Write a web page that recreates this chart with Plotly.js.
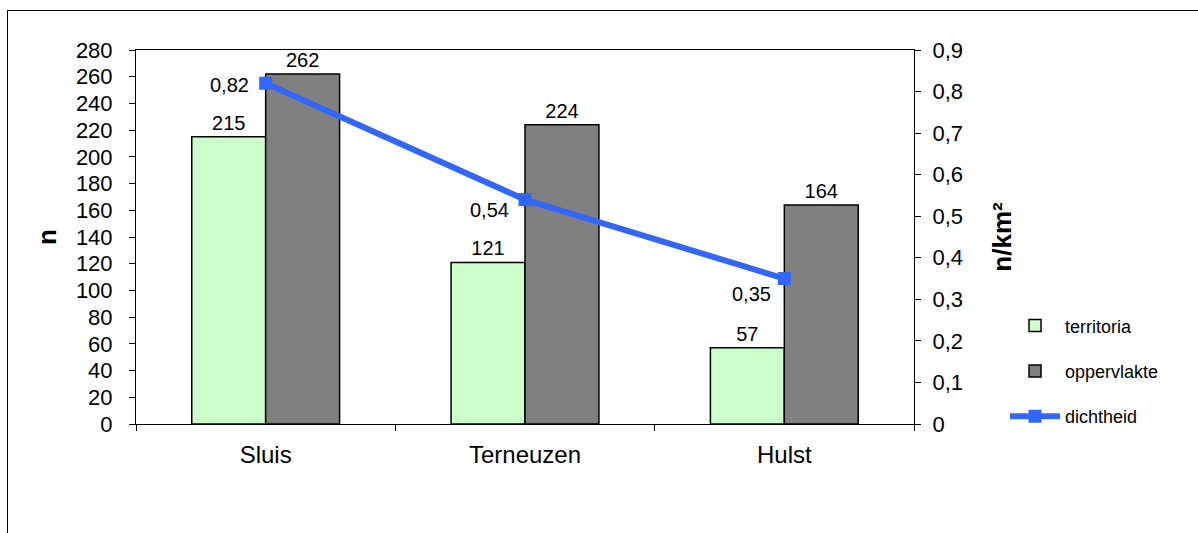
<!DOCTYPE html>
<html><head><meta charset="utf-8">
<script src="https://cdn.plot.ly/plotly-3.0.1.min.js"></script>
<style>
html,body{margin:0;padding:0;background:#fff;overflow:hidden;}
#frame{position:absolute;left:7px;top:10px;width:1300px;height:600px;border:1.5px solid #000;box-sizing:border-box;}
#chart{position:absolute;left:0;top:0;width:1198px;height:533px;}
</style></head>
<body>
<div id="frame"></div>
<div id="chart"></div>
<script>
var categories = ["Sluis", "Terneuzen", "Hulst"];
var territoria = [215, 121, 57];
var oppervlakte = [262, 224, 164];
var dichtheid = [0.82, 0.54, 0.35];
var dichtheidLabels = ["0,82", "0,54", "0,35"];

var F = "Liberation Sans, Arial, sans-serif";
// label placement (style only): pixel shifts for the density labels
var labelShiftX = [-16, -15, -12];
var labelShiftY = [-2, -10, -15];

var traces = [
  {type:"bar", name:"territoria", x:categories, y:territoria, text:territoria.map(String),
   textposition:"outside", cliponaxis:false, textfont:{family:F,size:20,color:"#000"},
   marker:{color:"#CCFFCC", line:{color:"#000", width:1.5}}, legendgroup:"a", hoverinfo:"skip"},
  {type:"bar", name:"oppervlakte", x:categories, y:oppervlakte, text:oppervlakte.map(String),
   textposition:"outside", cliponaxis:false, textfont:{family:F,size:20,color:"#000"},
   marker:{color:"#808080", line:{color:"#000", width:1.5}}, legendgroup:"b", hoverinfo:"skip"},
  {type:"scatter", mode:"lines+markers", name:"dichtheid", x:categories, y:dichtheid, yaxis:"y2",
   cliponaxis:false,
   line:{color:"#3366FF", width:6}, marker:{symbol:"square", size:13, color:"#3366FF"},
   legendgroup:"c", hoverinfo:"skip"}
];

var annotations = categories.map(function(c, i){
  return {x:c, y:dichtheid[i], xref:"x", yref:"y2", text:dichtheidLabels[i], showarrow:false,
          xanchor:"right", yanchor:"middle", xshift:labelShiftX[i], yshift:labelShiftY[i],
          font:{family:F, size:20, color:"#000"}, borderpad:0};
});

var layout = {
  width:1198, height:533,
  margin:{l:136, r:284, t:50, b:109, pad:0},
  paper_bgcolor:"rgba(0,0,0,0)", plot_bgcolor:"rgba(0,0,0,0)",
  font:{family:F, size:16, color:"#000"},
  barmode:"group", bargap:0.43, bargroupgap:0,
  showlegend:true,
  annotations:annotations,
  legend:{x:1.117, xanchor:"left", y:0.312, yanchor:"top", font:{family:F,size:18},
          traceorder:"grouped", tracegroupgap:19, itemwidth:50, bgcolor:"rgba(0,0,0,0)"},
  xaxis:{type:"category", showline:true, linecolor:"#000", linewidth:1, mirror:true,
         ticks:"outside", ticklen:6, tickcolor:"#000", tickson:"boundaries",
         showgrid:false, zeroline:false, tickfont:{family:F,size:24}, ticklabelstandoff:9},
  yaxis:{range:[0,280], dtick:20, showline:true, linecolor:"#000", linewidth:1,
         ticks:"outside", ticklen:6, tickcolor:"#000", showgrid:false, zeroline:false,
         tickfont:{family:F,size:22}, ticklabelstandoff:12,
         title:{text:"<b>n</b>", font:{family:F,size:26}, standoff:11}},
  yaxis2:{overlaying:"y", side:"right", range:[0,0.9], dtick:0.1, showline:true, linecolor:"#000", linewidth:1,
          ticks:"outside", ticklen:6, tickcolor:"#000", showgrid:false, zeroline:false,
          tickfont:{family:F,size:22}, ticklabelstandoff:7,
          title:{text:"<b>n/km²</b>", font:{family:F,size:26}, standoff:30}},
  yaxis3:{overlaying:"y", side:"left", anchor:"x", range:[0,280], dtick:20, showline:false,
          ticks:"inside", ticklen:6, tickcolor:"#000", showticklabels:false, showgrid:false, zeroline:false},
  yaxis4:{overlaying:"y", side:"right", anchor:"x", range:[0,0.9], dtick:0.1, showline:false,
          ticks:"inside", ticklen:6, tickcolor:"#000", showticklabels:false, showgrid:false, zeroline:false},
  xaxis2:{overlaying:"x", side:"bottom", anchor:"y", range:[-0.5,2.5], tick0:-0.5, dtick:1, showline:false,
          ticks:"inside", ticklen:6, tickcolor:"#000", showticklabels:false, showgrid:false, zeroline:false},
  separators:",."
};

Plotly.newPlot("chart", traces, layout, {staticPlot:true, displayModeBar:false});
</script>
</body></html>
